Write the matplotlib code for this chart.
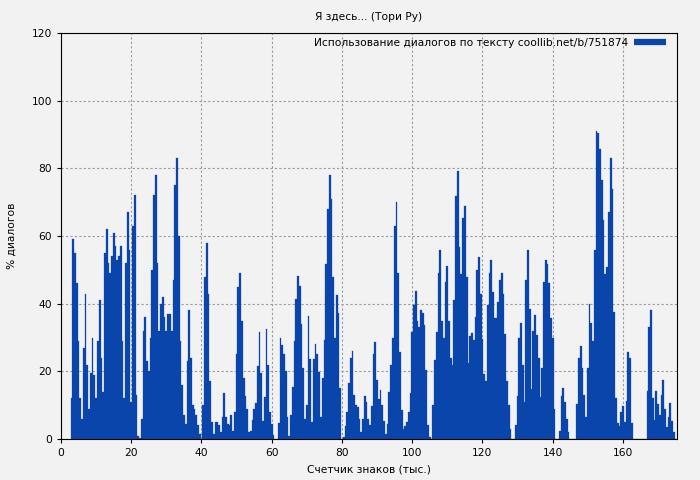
import numpy as np
import matplotlib
matplotlib.use("Agg")
import matplotlib.pyplot as plt
from matplotlib.lines import Line2D

# bins of 0.5 thousand chars, first bin centred at 3.0
x_start = 3.0
bin_width = 0.5
dialog_pct = [
    12, 59, 55, 46, 29, 12, 6, 27, 43, 22,
    9, 19.5, 30, 19, 12, 29, 41, 24, 14, 55,
    62, 52, 49, 54, 61, 57, 53, 54, 57, 29,
    12, 52, 67, 56, 11, 63, 72, 13, 1, 0.3,
    6, 32, 36, 23, 20, 30, 50, 72, 78, 52,
    32, 40, 42, 36, 32, 37, 37, 32, 47, 75,
    83, 60, 29, 16, 7, 4.4, 23, 38, 24, 10,
    9, 7, 4, 1.5, 0, 10, 48, 58, 43, 17,
    5, 1.5, 5, 5, 4, 2, 6.4, 13.6, 6.4, 4.4,
    4, 7, 2.5, 8, 25, 45, 49, 35, 18, 12.6,
    9, 2, 2.5, 5.7, 8.9, 10.6, 21.5, 31.5, 19.5, 5.4,
    12.3, 32.5, 22, 8, 4.4, 1.2, 0, 0, 4.7, 30,
    27.8, 25, 20, 6.4, 0.8, 7, 15.3, 29, 41.4, 48.3,
    45.3, 34, 20.9, 5.9, 10, 36.5, 23.6, 5, 23.6, 28,
    25, 19.7, 6.4, 18, 29.4, 51.7, 68, 78, 71, 48,
    30, 42.6, 37.2, 15, 0, 0.5, 3.7, 8, 16.6, 23.8,
    26, 13, 10, 9.4, 5.9, 2, 6, 12.8, 11, 5.9,
    4, 9.9, 25, 28.6, 17.5, 11.8, 14.6, 10, 5.4, 1.5,
    4.4, 13.8, 21.9, 30, 62.9, 70, 49, 25.6, 8.7, 3,
    3.7, 5, 7.9, 13.6, 31.5, 39.6, 43.8, 35, 33, 38.2,
    37.2, 33.7, 20.5, 4, 0.5, 0, 10, 23.4, 31.5, 49,
    56, 35, 30, 46.5, 51, 35, 23.8, 21.9, 41, 71.7,
    79.3, 56.7, 48.8, 65.2, 69, 47.8, 22.5, 30.5, 31.3, 29.4,
    36, 50, 53.7, 43, 29.6, 19.2, 17.2, 39.6, 49, 53,
    43.5, 35.7, 35.7, 40.6, 47, 49, 43, 31, 17, 10,
    3, 0, 0, 4, 12.8, 30, 34.3, 22, 10.8, 47,
    56, 38.4, 14.8, 32, 36.6, 30.7, 24, 12.3, 21, 46.5,
    53, 51.7, 46, 35.7, 30, 8.9, 0, 0, 2.5, 12.8,
    15, 11, 6, 2, 0, 0, 0, 0, 10.3, 23.8,
    27.4, 20.9, 13, 6.4, 20.9, 40, 34.3, 29, 56, 91,
    90.4, 85.7, 76.6, 64.8, 48.8, 50.7, 67.2, 83, 74, 37.4,
    12, 4.7, 3.7, 8, 9.7, 5, 11.3, 25.8, 23.8, 4.7,
    0, 0, 0, 0, 0, 0, 0, 0, 14.3, 33,
    38, 12, 5.7, 14.3, 10.3, 7, 13, 17.5, 9, 3.4,
    6.4, 10.6, 5.4, 2, 0,
]
x_ticks = [0, 20, 40, 60, 80, 100, 120, 140, 160]
y_ticks = [0, 20, 40, 60, 80, 100, 120]

title = "Я здесь... (Тори Ру)"
legend_label = "Использование диалогов по тексту coollib.net/b/751874"
bar_color = "#0a45ab"
bg = "#f2f2f2"

plt.rcParams["font.family"] = ["DejaVu Sans"]
plt.rcParams["font.size"] = 7.7

fig = plt.figure(figsize=(7, 4.8), dpi=100, facecolor=bg)
ax = fig.add_axes([61 / 700, 1 - 439 / 480, 616 / 700, 406 / 480])
ax.set_facecolor(bg)

x = x_start + bin_width * np.arange(len(dialog_pct))
ax.bar(x, dialog_pct, width=bin_width, color=bar_color,
       edgecolor=bar_color, linewidth=0.2, zorder=2)

ax.set_xlim(0, 175.4)
ax.set_ylim(0, 120)
ax.set_xticks(x_ticks)
ax.set_yticks(y_ticks)
ax.grid(True, color="#9a9a9a", linestyle=(0, (2, 2)), linewidth=0.8, zorder=0)
ax.set_axisbelow(True)
ax.tick_params(length=3, width=0.8, labelsize=7.7)

ax.set_title(title, fontsize=7.7, pad=9)
ax.set_xlabel("Счетчик знаков (тыс.)", fontsize=7.7, labelpad=5)
ax.set_ylabel("% диалогов", fontsize=7.7, labelpad=11)

handle = Line2D([0], [0], color=bar_color, linewidth=4.5, solid_capstyle="butt")
ax.legend([handle], [legend_label], loc="upper right", frameon=False,
          markerfirst=False, handlelength=3.0, fontsize=7.7,
          borderaxespad=0.3, handletextpad=0.6,
          bbox_to_anchor=(0.995, 1.006))

fig.savefig("out.png", dpi=100, facecolor=bg)
plt.close(fig)
